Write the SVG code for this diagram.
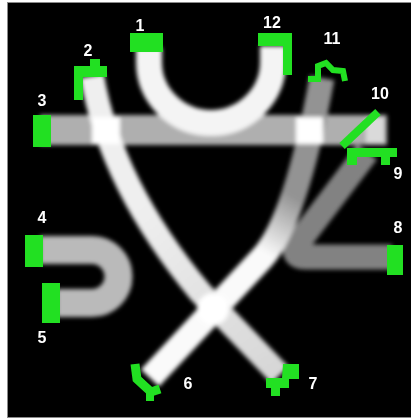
<svg xmlns="http://www.w3.org/2000/svg" width="411" height="419" viewBox="0 0 411 419">
<defs>
<filter id="blur" x="-10%" y="-10%" width="120%" height="120%"><feGaussianBlur stdDeviation="2.3"/></filter>
<filter id="soft" x="-20%" y="-20%" width="140%" height="140%"><feGaussianBlur stdDeviation="0.7"/></filter>
<linearGradient id="gA" gradientUnits="userSpaceOnUse" x1="300" y1="200" x2="268" y2="255">
<stop offset="0" stop-color="#939393"/><stop offset="1" stop-color="#fafafa"/>
</linearGradient>
<linearGradient id="g2" gradientUnits="userSpaceOnUse" x1="150" y1="200" x2="280" y2="375">
<stop offset="0" stop-color="#efefef"/><stop offset="1" stop-color="#d6d6d6"/>
</linearGradient>
</defs>
<style>
.tube{fill:none;stroke-linecap:butt;stroke-linejoin:round}
.hi{fill:#ffffff}
.cap{fill:#22e022}
.capl{fill:none;stroke:#22e022;stroke-linejoin:miter}
.lbl{font-family:"Liberation Sans",Arial,sans-serif;font-weight:bold;font-size:16px;fill:#ffffff;text-anchor:middle}
</style>
<rect x="0" y="0" width="411" height="419" fill="#ffffff"/>
<rect x="7.5" y="2.5" width="410" height="415" fill="#000000" stroke="#8a8a8a"/>
<g id="connectors" filter="url(#blur)">
<path id="tube-3-10" class="tube" d="M40,130 L387,130" stroke="#afafaf" stroke-width="30"/>
<path id="tube-9-8" class="tube" d="M367,152 L298,243 Q290,257 306,257 L392,257" stroke="#828282" stroke-width="25"/>
<path id="tube-11-6" class="tube" d="M322,78 C305,170 285,233 262,258 L150,378" stroke="url(#gA)" stroke-width="25"/>
<path id="tube-2-7" class="tube" d="M92,76 C105,150 140,220 200,292 L280,375" stroke="url(#g2)" stroke-width="24"/>
<path id="tube-1-12" class="tube" d="M149,48 L149,62 A62,61 0 0 0 273,62 L273,46" stroke="#f4f4f4" stroke-width="26"/>
<path id="tube-4-5" class="tube" d="M40,250 L92,250 A26.5,26.5 0 0 1 92,303 L57,303" stroke="#bababa" stroke-width="28"/>
<rect class="hi" x="92" y="117" width="28" height="27"/>
<rect class="hi" x="296" y="117" width="27" height="27"/>
<rect x="366" y="117" width="18" height="26" fill="#dadada"/>
<circle class="hi" cx="213" cy="309" r="16"/>
</g>
<g filter="url(#soft)">
<g id="n1"><rect class="cap" x="130" y="33" width="33" height="19"/><text class="lbl" x="140" y="31">1</text></g>
<g id="n12"><path class="cap" d="M258,33 H292 V75 H283 V46 H258 Z"/><text class="lbl" x="272" y="28">12</text></g>
<g id="n2"><path class="cap" d="M74,66 H90 V59 H100 V66 H107 V77 H83 V100 H74 Z"/><text class="lbl" x="88" y="56">2</text></g>
<g id="n11"><polyline class="capl" points="308,79 318,79 318,66 326,63 333,70 343,71 345,81" stroke-width="6"/><text class="lbl" x="332" y="44">11</text></g>
<g id="n3"><rect class="cap" x="33" y="115" width="18" height="32"/><text class="lbl" x="42" y="106">3</text></g>
<g id="n10"><line class="capl" x1="342" y1="146" x2="378" y2="112" stroke-width="8"/><text class="lbl" x="380" y="99">10</text></g>
<g id="n9"><path class="cap" d="M347,148 H397 V157 H390 V165 H381 V157 H357 V165 H347 Z"/><text class="lbl" x="398" y="179">9</text></g>
<g id="n4"><rect class="cap" x="25" y="235" width="18" height="32"/><text class="lbl" x="42" y="223">4</text></g>
<g id="n5"><rect class="cap" x="42" y="283" width="18" height="40"/><text class="lbl" x="42" y="343">5</text></g>
<g id="n8"><rect class="cap" x="387" y="245" width="16" height="30"/><text class="lbl" x="398" y="233">8</text></g>
<g id="n6"><polyline class="capl" points="135,364 137,379 151,392 160,389" stroke-width="9"/><rect class="cap" x="146" y="392" width="8" height="9"/><text class="lbl" x="188" y="389">6</text></g>
<g id="n7"><path class="cap" d="M283,364 H299 V379 H289 V388 H280 V396 H271 V388 H266 V378 H282 Z"/><text class="lbl" x="313" y="389">7</text></g>
</g>
</svg>
